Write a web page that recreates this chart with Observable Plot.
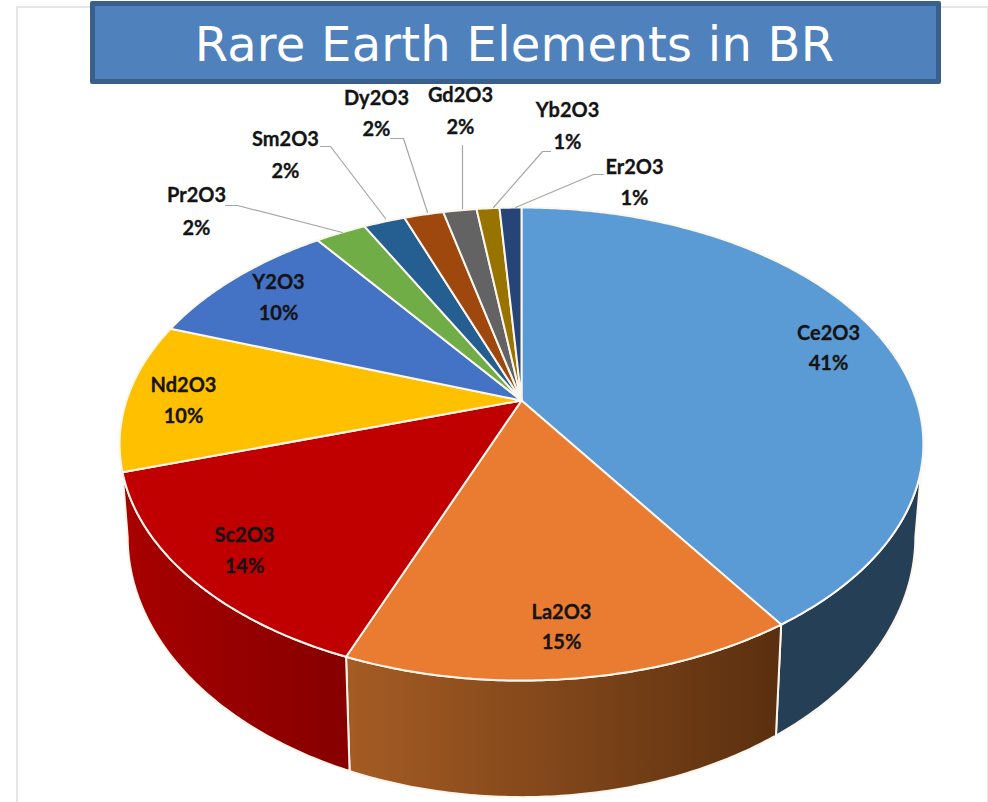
<!DOCTYPE html>
<html>
<head>
<meta charset="utf-8">
<script src="https://cdn.jsdelivr.net/npm/d3@7"></script>
<script src="https://cdn.jsdelivr.net/npm/@observablehq/plot@0.6"></script>
<style>
html,body{margin:0;padding:0;background:#fff}
#wrap{position:relative;width:988px;height:802px;overflow:hidden}
#frame{position:absolute;left:16px;top:6px;width:969px;height:800px;border:2px solid #e6e6e6;box-sizing:content-box}
#title{position:absolute;left:90px;top:1px;width:851px;height:83px;box-sizing:border-box;background:#4f81bd;border:5px solid #3b5f8c;border-radius:2px;color:#fff;font:48px "DejaVu Sans",sans-serif;letter-spacing:.25px;line-height:77px;text-align:center;text-indent:-2px;white-space:nowrap}
#chart{position:absolute;left:0;top:0}
svg{display:block;background:transparent!important}
</style>
</head>
<body>
<div id="wrap">
<div id="frame"></div>
<div id="chart"></div>
<div id="title">Rare Earth Elements in BR</div>
</div>
<script>
// Data (percent of total)
const elements = ["Ce2O3","La2O3","Sc2O3","Nd2O3","Y2O3","Pr2O3","Sm2O3","Dy2O3","Gd2O3","Yb2O3","Er2O3"];
const shares   = [40.6,15.4,14.2,10.2,9.5,2.45,2.0,1.9,1.6,1.1,1.05];
const colors   = ["#5b9bd5","#e97c30","#c00000","#ffc000","#4472c4","#70ad47","#255e91","#9e480e","#636363","#997300","#264478"];
const wallFills = {"Ce2O3":"#253f57","La2O3":"url(#wallLa)","Sc2O3":"url(#wallSc)"};
// Label anchor (px) per element
const labelX = [828,561,244,183,278,196,285,376,460,567,634];
const labelY = [333,612,535,385,282,195,139,98,95,110,167];
const labelGap = [30,30,31,31,31,33,32,31,32,32,31];
// Leader lines for the outside labels
const leaders = {
  "Pr2O3":[[225,205],[237,205],[342,232]],
  "Sm2O3":[[320,146],[330,146],[385,218]],
  "Dy2O3":[[390,138],[403,138],[427,212]],
  "Gd2O3":[[462,145],[462,208]],
  "Yb2O3":[[550,151],[542,151],[493,207]],
  "Er2O3":[[603,174],[593,174],[515,207]]
};
// 3-D pie geometry
const apexX = 521, apexY = 400, radX = 395, radY = 228.5, persp = 0.184;
const depth = 88.6, baseScaleX = 0.98, baseScaleY = 1.1;

function rim(theta){
  const u = Math.sin(theta), v = -Math.cos(theta), w = 1 - persp*v;
  return [apexX + radX*u/w, apexY + radY*v/w];
}
function base(theta){
  const [x,y] = rim(theta);
  return [apexX + baseScaleX*(x-apexX), apexY + depth + baseScaleY*(y-apexY)];
}
function arc(a,b,f){
  const n = Math.max(2,Math.ceil(Math.abs(b-a)/0.01)), out=[];
  for(let i=0;i<=n;i++) out.push(f(a+(b-a)*i/n));
  return out;
}
const slices = d3.pie().sort(null).value(d=>d)(shares).map((s,i)=>({name:elements[i],color:colors[i],a:s.startAngle,b:s.endAngle,value:s.value,i}));

const tops = slices.flatMap(s=>[[apexX,apexY],...arc(s.a,s.b,rim)].map(p=>({name:s.name,color:s.color,x:p[0],y:p[1]})));

const rightSide = Math.PI/2 + (Math.PI/2 - Math.acos(persp));
const leftSide = 2*Math.PI - rightSide;
const walls = slices.filter(s=>wallFills[s.name]).flatMap(s=>{
  const a = Math.max(s.a,rightSide), b = s.b;
  const baseEnd = s.name==="Sc2O3" ? leftSide : b;
  const ring = [...arc(a,b,rim), ...arc(baseEnd,a,base)];
  return ring.map(p=>({name:s.name,color:wallFills[s.name],x:p[0],y:p[1]}));
});

const leaderRows = Object.entries(leaders).flatMap(([name,pts])=>pts.map(p=>({name,x:p[0],y:p[1]})));
const nameRows = elements.map((n,i)=>({t:n,x:labelX[i],y:labelY[i]}));
const pctRows = elements.map((n,i)=>({t:Math.round(shares[i])+"%",x:labelX[i],y:labelY[i]+labelGap[i]}));

function gradients(){
  const defs = d3.create("svg:defs");
  const add=(id,stops)=>{
    const g=defs.append("linearGradient").attr("id",id).attr("x1","0").attr("x2","1").attr("y1","0").attr("y2","0");
    stops.forEach(([o,c])=>g.append("stop").attr("offset",o).attr("stop-color",c));
  };
  add("wallLa",[[0,"#a55c24"],[1,"#5a2f0f"]]);
  add("wallSc",[[0,"#a80000"],[0.6,"#930000"],[1,"#860000"]]);
  return defs.node();
}

const chart = Plot.plot({
  width:988,height:802,margin:0,
  x:{domain:[0,988],range:[0,988],axis:null},
  y:{domain:[0,802],range:[0,802],axis:null},
  color:{type:"identity"},
  style:{background:"transparent"},
  marks:[
    gradients,
    Plot.line(walls,{x:"x",y:"y",z:"name",fill:"color",stroke:"#fdf6ec",strokeWidth:2,curve:"linear-closed"}),
    Plot.line(tops,{x:"x",y:"y",z:"name",fill:"color",stroke:"#fbf7ef",strokeWidth:2,strokeLinejoin:"round",curve:"linear-closed"}),
    Plot.line(leaderRows,{x:"x",y:"y",z:"name",stroke:"#a6a6a6",strokeWidth:1.2}),
    Plot.text(nameRows,{x:"x",y:"y",text:"t",fontFamily:"Lato",fontWeight:700,fontSize:20,fill:"#141414",stroke:"#141414",strokeWidth:0.3}),
    Plot.text(pctRows,{x:"x",y:"y",text:"t",fontFamily:"Lato",fontWeight:700,fontSize:20,fill:"#141414",stroke:"#141414",strokeWidth:0.3})
  ]
});
document.getElementById("chart").appendChild(chart);
</script>
</body>
</html>
